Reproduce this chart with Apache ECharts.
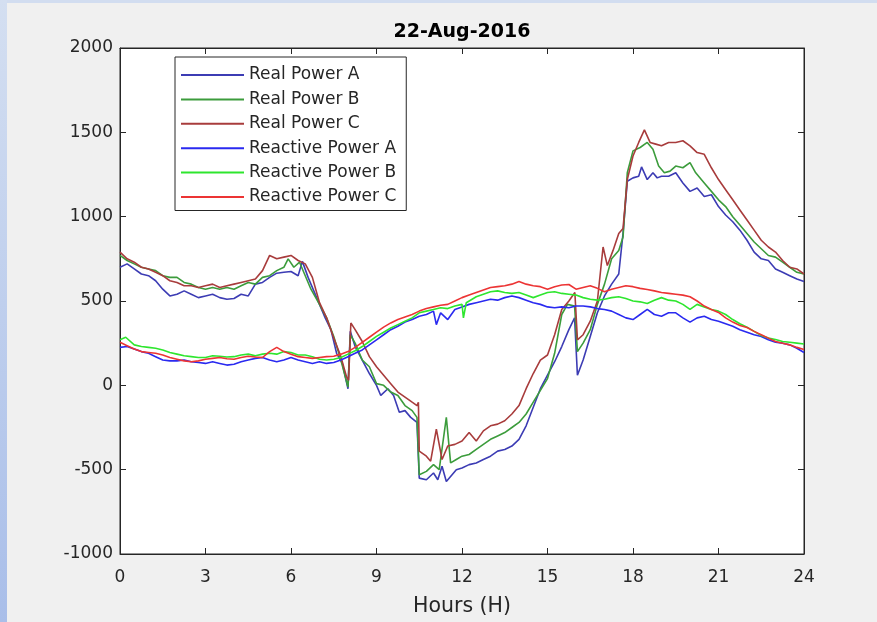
<!DOCTYPE html>
<html>
<head>
<meta charset="utf-8">
<script src="https://cdn.jsdelivr.net/npm/echarts@6/dist/echarts.min.js"></script>
<style>html,body{margin:0;padding:0;background:#f0f0f0;}#c{width:877px;height:622px;}</style>
</head>
<body>
<div id="c"></div>
<script>
const titleText = '22-Aug-2016';
const xName = 'Hours (H)';
const seriesNames = ['Real Power A','Real Power B','Real Power C','Reactive Power A','Reactive Power B','Reactive Power C'];
const xTicks = [0,3,6,9,12,15,18,21,24];
const yTicks = [-1000,-500,0,500,1000,1500,2000];

const realA = [[0,700],[0.25,720],[0.5,690],[0.75,660],[1,650],[1.25,620],[1.5,570],[1.75,530],[2,540],[2.25,560],[2.5,540],[2.75,520],[3,530],[3.25,540],[3.5,520],[3.75,510],[4,515],[4.25,540],[4.5,530],[4.75,600],[5,610],[5.25,640],[5.5,665],[5.75,670],[6,675],[6.25,650],[6.4,735],[6.6,640],[6.8,560],[7,480],[7.2,400],[7.4,330],[7.6,190],[7.8,130],[8.0,-20],[8.08,320],[8.25,230],[8.5,150],[8.75,70],[9.0,0],[9.15,-60],[9.4,-20],[9.6,-60],[9.8,-160],[10.0,-150],[10.2,-190],[10.42,-220],[10.5,-550],[10.75,-560],[11.0,-520],[11.15,-560],[11.3,-480],[11.45,-570],[11.6,-540],[11.8,-500],[12,-490],[12.25,-470],[12.5,-460],[12.75,-440],[13,-420],[13.25,-390],[13.5,-380],[13.75,-360],[14,-320],[14.25,-240],[14.5,-130],[14.75,-20],[15,60],[15.25,140],[15.5,230],[15.75,330],[15.95,400],[16.05,60],[16.25,150],[16.5,290],[16.75,430],[17,530],[17.25,600],[17.5,660],[17.65,900],[17.8,1210],[18,1230],[18.2,1240],[18.3,1295],[18.5,1220],[18.7,1260],[18.85,1230],[19.0,1240],[19.25,1240],[19.5,1260],[19.75,1200],[20,1150],[20.25,1170],[20.5,1120],[20.75,1130],[21,1060],[21.25,1010],[21.5,970],[21.75,920],[22,860],[22.25,790],[22.5,750],[22.75,740],[23,690],[23.25,670],[23.5,650],[23.75,630],[24,615]];

const realB = [[0,770],[0.25,740],[0.5,720],[0.75,700],[1,690],[1.25,680],[1.5,650],[1.75,640],[2,640],[2.25,610],[2.5,600],[2.75,580],[3,570],[3.25,580],[3.5,570],[3.75,580],[4,570],[4.25,590],[4.5,610],[4.75,600],[5,640],[5.25,650],[5.5,680],[5.75,700],[5.9,750],[6.1,700],[6.3,730],[6.5,650],[6.7,570],[7,480],[7.25,400],[7.5,290],[7.75,150],[8.0,-10],[8.08,300],[8.25,250],[8.5,150],[8.75,110],[9,10],[9.25,0],[9.5,-40],[9.75,-60],[10,-120],[10.25,-150],[10.42,-190],[10.5,-530],[10.75,-510],[11,-470],[11.2,-500],[11.45,-190],[11.6,-460],[11.8,-440],[12,-420],[12.25,-410],[12.5,-380],[12.75,-350],[13,-320],[13.25,-300],[13.5,-280],[13.75,-250],[14,-220],[14.25,-170],[14.5,-100],[14.75,-30],[15,40],[15.25,190],[15.5,420],[15.7,480],[15.95,470],[16.05,200],[16.25,250],[16.5,330],[16.75,480],[17,600],[17.25,750],[17.5,800],[17.65,880],[17.8,1260],[18,1390],[18.25,1410],[18.5,1440],[18.7,1400],[18.9,1300],[19.1,1260],[19.3,1270],[19.5,1300],[19.75,1290],[20,1320],[20.2,1260],[20.5,1200],[20.75,1150],[21,1100],[21.25,1060],[21.5,1000],[21.75,950],[22,900],[22.25,850],[22.5,810],[22.75,770],[23,760],[23.25,730],[23.5,700],[23.75,670],[24,660]];

const realC = [[0,790],[0.25,750],[0.5,730],[0.75,700],[1,690],[1.25,670],[1.5,650],[1.75,620],[2,610],[2.25,590],[2.5,590],[2.75,580],[3,590],[3.25,600],[3.5,580],[3.75,590],[4,600],[4.25,610],[4.5,620],[4.75,630],[5,680],[5.25,770],[5.5,750],[5.75,760],[6,770],[6.25,740],[6.5,720],[6.75,640],[7,490],[7.25,400],[7.5,280],[7.75,170],[7.95,50],[8.02,30],[8.1,370],[8.25,330],[8.5,260],[8.75,170],[9,110],[9.25,60],[9.5,10],[9.75,-40],[10,-70],[10.25,-100],[10.42,-120],[10.47,-100],[10.5,-390],[10.75,-420],[10.9,-450],[11.1,-260],[11.3,-440],[11.5,-360],[11.75,-350],[12,-330],[12.25,-280],[12.5,-330],[12.75,-270],[13,-240],[13.25,-230],[13.5,-210],[13.75,-170],[14,-120],[14.25,-20],[14.5,70],[14.75,150],[15,180],[15.25,300],[15.5,450],[15.75,500],[15.96,550],[16.05,270],[16.25,300],[16.5,380],[16.75,500],[16.95,820],[17.1,710],[17.3,800],[17.5,900],[17.65,930],[17.8,1220],[18,1360],[18.2,1440],[18.4,1515],[18.6,1440],[18.8,1430],[19,1420],[19.25,1440],[19.5,1440],[19.75,1450],[20,1420],[20.25,1380],[20.5,1370],[20.75,1290],[21,1220],[21.25,1160],[21.5,1100],[21.75,1040],[22,980],[22.25,920],[22.5,860],[22.75,820],[23,790],[23.25,740],[23.5,700],[23.75,690],[24,660]];

const reactA = [[0,225],[0.25,230],[0.5,215],[0.75,200],[1,190],[1.25,170],[1.5,150],[1.75,145],[2,145],[2.25,150],[2.5,140],[2.75,135],[3,130],[3.25,140],[3.5,130],[3.75,120],[4,125],[4.25,140],[4.5,150],[4.75,160],[5,165],[5.25,150],[5.5,140],[5.75,150],[6,165],[6.25,150],[6.5,140],[6.75,130],[7,140],[7.25,130],[7.5,135],[7.75,150],[8,170],[8.25,190],[8.5,210],[8.75,240],[9,270],[9.25,300],[9.5,330],[9.75,350],[10,375],[10.25,390],[10.5,410],[10.75,420],[11,440],[11.1,360],[11.25,430],[11.5,390],[11.75,450],[12,465],[12.25,480],[12.5,490],[12.75,500],[13,510],[13.25,505],[13.5,520],[13.75,530],[14,520],[14.25,505],[14.5,490],[14.75,480],[15,465],[15.25,460],[15.5,465],[15.75,460],[16,470],[16.25,470],[16.5,465],[16.75,455],[17,450],[17.25,440],[17.5,420],[17.75,400],[18,390],[18.25,420],[18.5,450],[18.75,420],[19,410],[19.25,430],[19.5,430],[19.75,400],[20,375],[20.25,400],[20.5,410],[20.75,390],[21,380],[21.25,365],[21.5,350],[21.75,330],[22,315],[22.25,300],[22.5,290],[22.75,270],[23,255],[23.25,250],[23.5,240],[23.75,220],[24,195]];

const reactB = [[0,270],[0.2,285],[0.5,240],[0.75,230],[1,225],[1.25,220],[1.5,210],[1.75,195],[2,185],[2.25,175],[2.5,170],[2.75,165],[3,165],[3.25,175],[3.5,172],[3.75,168],[4,170],[4.25,180],[4.5,185],[4.75,175],[5,185],[5.25,190],[5.5,185],[5.75,200],[6,195],[6.25,180],[6.5,180],[6.75,170],[7,155],[7.25,150],[7.5,155],[7.75,165],[8,185],[8.25,205],[8.5,230],[8.75,260],[9,290],[9.25,315],[9.5,340],[9.75,360],[10,380],[10.25,400],[10.5,430],[10.75,440],[11,450],[11.25,460],[11.5,455],[11.75,470],[12,480],[12.05,400],[12.15,490],[12.5,525],[12.75,540],[13,555],[13.25,560],[13.5,550],[13.75,545],[14,550],[14.25,535],[14.5,520],[14.75,535],[15,550],[15.25,555],[15.5,545],[15.75,540],[16,535],[16.25,520],[16.5,510],[16.75,505],[17,510],[17.25,520],[17.5,525],[17.75,515],[18,500],[18.25,495],[18.5,485],[18.75,505],[19,520],[19.25,505],[19.5,500],[19.75,480],[20,450],[20.25,480],[20.5,465],[20.75,450],[21,440],[21.25,420],[21.5,390],[21.75,365],[22,345],[22.25,320],[22.5,295],[22.75,280],[23,272],[23.25,260],[23.5,255],[23.75,250],[24,245]];

const reactC = [[0,255],[0.25,235],[0.5,215],[0.75,200],[1,195],[1.25,190],[1.5,180],[1.75,165],[2,155],[2.25,145],[2.5,140],[2.75,145],[3,155],[3.25,160],[3.5,165],[3.75,158],[4,155],[4.25,165],[4.5,172],[4.75,168],[5,165],[5.25,200],[5.5,225],[5.75,200],[6,185],[6.25,170],[6.5,165],[6.75,160],[7,165],[7.25,170],[7.5,172],[7.75,185],[8,200],[8.25,225],[8.5,255],[8.75,285],[9,315],[9.25,345],[9.5,370],[9.75,390],[10,405],[10.25,420],[10.5,440],[10.75,455],[11,465],[11.25,475],[11.5,480],[11.75,500],[12,520],[12.25,535],[12.5,550],[12.75,565],[13,580],[13.25,585],[13.5,590],[13.75,600],[14,615],[14.25,600],[14.5,590],[14.75,585],[15,570],[15.25,585],[15.5,595],[15.75,598],[16,570],[16.25,580],[16.5,590],[16.75,575],[17,555],[17.25,570],[17.5,580],[17.75,590],[18,585],[18.25,575],[18.5,568],[18.75,560],[19,550],[19.25,545],[19.5,540],[19.75,535],[20,525],[20.25,500],[20.5,470],[20.75,450],[21,432],[21.25,400],[21.5,375],[21.75,355],[22,343],[22.25,320],[22.5,300],[22.75,280],[23,260],[23.25,250],[23.5,240],[23.75,225],[24,213]];

const seriesData = [realA, realB, realC, reactA, reactB, reactC];
const colors = ['#3c3cb4', '#3c9c3c', '#a83c3c', '#2a2af0', '#2ee62e', '#ec3434'];

const chart = echarts.init(document.getElementById('c'));
const FONT = 'DejaVu Sans';
const axisCommon = {
  type: 'value', min: 0, max: 24, interval: 3,
  axisLine: {show: true, onZero: false, lineStyle: {color: '#262626', width: 1}},
  axisTick: {show: true, inside: true, length: 6, lineStyle: {color: '#262626'}},
  splitLine: {show: false}
};
const yCommon = {
  type: 'value', min: -1000, max: 2000, interval: 500,
  axisLine: {show: true, onZero: false, lineStyle: {color: '#262626', width: 1}},
  axisTick: {show: true, inside: true, length: 6, lineStyle: {color: '#262626'}},
  splitLine: {show: false}
};
chart.setOption({
  backgroundColor: '#f0f0f0',
  animation: false,
  color: colors,
  graphic: [
    {type: 'rect', shape: {x: 0, y: 0, width: 877, height: 3}, style: {fill: '#d2ddf0'}, silent: true},
    {type: 'rect', shape: {x: 0, y: 0, width: 7, height: 622}, style: {fill: new echarts.graphic.LinearGradient(0, 0, 0, 1, [{offset: 0, color: '#d4dff1'}, {offset: 1, color: '#a9bee9'}])}, silent: true}
  ],
  title: {
    text: titleText, left: 462, top: 23, textAlign: 'center', padding: 0,
    textStyle: {fontFamily: FONT, fontSize: 19, fontWeight: 'bold', color: '#000'}
  },
  legend: {
    orient: 'vertical', left: 175, top: 57, padding: [9.5, 10, 5, 5],
    itemWidth: 63, itemHeight: 14, itemGap: 7.4,
    itemStyle: {color: 'rgba(0,0,0,0)', borderWidth: 0, opacity: 0},
    backgroundColor: '#fff', borderColor: '#262626', borderWidth: 1, borderRadius: 0,
    textStyle: {fontFamily: FONT, fontSize: 17, color: '#262626', padding: [0, 0, 0, 0]},
    data: seriesNames
  },
  grid: {left: 120, right: 73, top: 48, bottom: 67, show: true, backgroundColor: '#ffffff', borderColor: '#262626', borderWidth: 1},
  xAxis: [
    Object.assign({}, axisCommon, {position: 'bottom',
      axisLabel: {show: true, margin: 15, fontFamily: FONT, fontSize: 17, color: '#262626', formatter: v => String(v)},
      name: xName, nameLocation: 'middle', nameGap: 42,
      nameTextStyle: {fontFamily: FONT, fontSize: 20.5, color: '#262626'}}),
    Object.assign({}, axisCommon, {position: 'top', axisLabel: {show: false}})
  ],
  yAxis: [
    Object.assign({}, yCommon, {position: 'left',
      axisLabel: {show: true, margin: 7, fontFamily: FONT, fontSize: 17, color: '#262626', formatter: v => String(v)}}),
    Object.assign({}, yCommon, {position: 'right', axisLabel: {show: false}})
  ],
  series: seriesData.map((d, i) => ({
    name: seriesNames[i], type: 'line', data: d, symbol: 'none', showSymbol: false,
    xAxisIndex: 0, yAxisIndex: 0,
    lineStyle: {width: 1.6, color: colors[i]}, itemStyle: {color: colors[i]}
  }))
});
</script>
</body>
</html>
